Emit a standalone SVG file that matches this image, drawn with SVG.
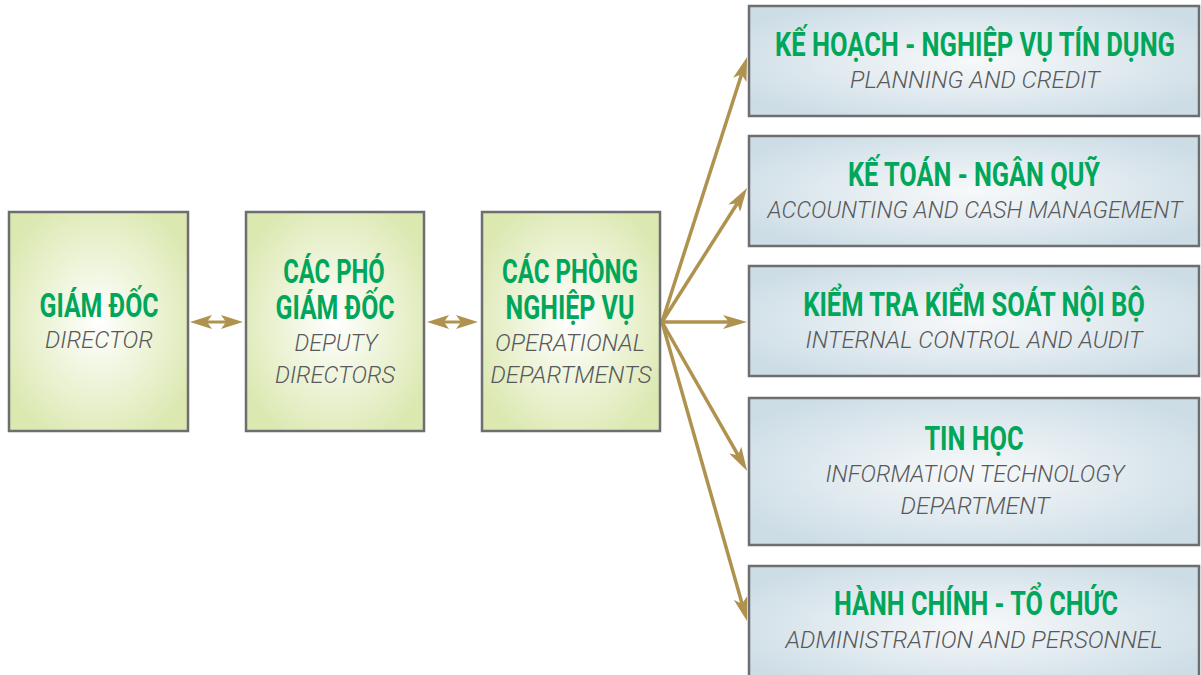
<svg xmlns="http://www.w3.org/2000/svg" width="1201" height="675" viewBox="0 0 1201 675">
<style>
.lbox{fill:url(#gl);stroke:#6d6e71;stroke-width:2.5}
.rbox{fill:url(#gr);stroke:#6d6e71;stroke-width:2.5}
.t{font-family:Roboto,"Liberation Sans",sans-serif;font-weight:700;font-size:33px;fill:#00a65a;text-anchor:middle}
.s{font-family:Roboto,"Liberation Sans",sans-serif;font-weight:300;font-style:italic;font-size:24px;fill:#58595b;text-anchor:middle}
.c{stroke:#b0924f;stroke-width:3.5;fill:none}
.d{stroke:#b0924f;stroke-width:3;fill:none}
</style>
<defs>
<radialGradient id="gl" cx="0.5" cy="0.5" r="0.6">
<stop offset="0" stop-color="#ffffff"/>
<stop offset="1" stop-color="#dbe8b0"/>
</radialGradient>
<radialGradient id="gr" cx="0.5" cy="0.5" r="0.6">
<stop offset="0" stop-color="#f7f9fa"/>
<stop offset="1" stop-color="#cddde6"/>
</radialGradient>
<marker id="ah" viewBox="0 0 24 14" refX="6" refY="7" markerWidth="24" markerHeight="14" markerUnits="userSpaceOnUse" orient="auto-start-reverse">
<path d="M0,0 L24,7 L0,14 L6,7 Z" fill="#b0924f"/>
</marker>
<marker id="dh" viewBox="0 0 22 14" refX="5" refY="7" markerWidth="22" markerHeight="14" markerUnits="userSpaceOnUse" orient="auto-start-reverse">
<path d="M0,0 L22,7 L0,14 L5,7 Z" fill="#b0924f"/>
</marker>
</defs>

<g id="connectors">
<line class="d" x1="207" y1="322" x2="226" y2="322" marker-start="url(#dh)" marker-end="url(#dh)"/>
<line class="d" x1="444" y1="322" x2="461" y2="322" marker-start="url(#dh)" marker-end="url(#dh)"/>
<line class="c" x1="662" y1="322" x2="741.6" y2="74.2" marker-end="url(#ah)"/>
<line class="c" x1="662" y1="322" x2="737.4" y2="203.2" marker-end="url(#ah)"/>
<line class="c" x1="662" y1="322" x2="729" y2="322" marker-end="url(#ah)"/>
<line class="c" x1="662" y1="322" x2="738.2" y2="455.3" marker-end="url(#ah)"/>
<line class="c" x1="662" y1="322" x2="742.1" y2="603.7" marker-end="url(#ah)"/>
</g>

<g id="director">
<rect class="lbox" x="9" y="212" width="179" height="219"/>
<text class="t" transform="translate(99,317) scale(0.8,1)" textLength="149" lengthAdjust="spacingAndGlyphs">GIÁM ĐỐC</text>
<text class="s" x="99" y="348" textLength="108" lengthAdjust="spacingAndGlyphs">DIRECTOR</text>
</g>

<g id="deputy">
<rect class="lbox" x="246" y="212" width="178" height="219"/>
<text class="t" transform="translate(334,283) scale(0.8,1)" textLength="127" lengthAdjust="spacingAndGlyphs">CÁC PHÓ</text>
<text class="t" transform="translate(335,319) scale(0.8,1)" textLength="149" lengthAdjust="spacingAndGlyphs">GIÁM ĐỐC</text>
<text class="s" x="336" y="351" textLength="83" lengthAdjust="spacingAndGlyphs">DEPUTY</text>
<text class="s" x="335" y="383" textLength="120" lengthAdjust="spacingAndGlyphs">DIRECTORS</text>
</g>

<g id="operational">
<rect class="lbox" x="482" y="212" width="178" height="219"/>
<text class="t" transform="translate(570,283) scale(0.8,1)" textLength="170" lengthAdjust="spacingAndGlyphs">CÁC PHÒNG</text>
<text class="t" transform="translate(570,319) scale(0.8,1)" textLength="161" lengthAdjust="spacingAndGlyphs">NGHIỆP VỤ</text>
<text class="s" x="570" y="351" textLength="150" lengthAdjust="spacingAndGlyphs">OPERATIONAL</text>
<text class="s" x="571" y="383" textLength="161" lengthAdjust="spacingAndGlyphs">DEPARTMENTS</text>
</g>

<g id="planning">
<rect class="rbox" x="749" y="6" width="450" height="110"/>
<text class="t" transform="translate(975,56) scale(0.8,1)" textLength="500" lengthAdjust="spacingAndGlyphs">KẾ HOẠCH - NGHIỆP VỤ TÍN DỤNG</text>
<text class="s" x="975" y="88" textLength="250" lengthAdjust="spacingAndGlyphs">PLANNING AND CREDIT</text>
</g>

<g id="accounting">
<rect class="rbox" x="749" y="136" width="450" height="110"/>
<text class="t" transform="translate(974,186) scale(0.8,1)" textLength="315" lengthAdjust="spacingAndGlyphs">KẾ TOÁN - NGÂN QUỸ</text>
<text class="s" x="975" y="218" textLength="415" lengthAdjust="spacingAndGlyphs">ACCOUNTING AND CASH MANAGEMENT</text>
</g>

<g id="audit">
<rect class="rbox" x="749" y="266" width="450" height="110"/>
<text class="t" transform="translate(974,316) scale(0.8,1)" textLength="427" lengthAdjust="spacingAndGlyphs">KIỂM TRA KIỂM SOÁT NỘI BỘ</text>
<text class="s" x="974" y="348" textLength="337" lengthAdjust="spacingAndGlyphs">INTERNAL CONTROL AND AUDIT</text>
</g>

<g id="it">
<rect class="rbox" x="749" y="398" width="450" height="147"/>
<text class="t" transform="translate(974,450) scale(0.8,1)" textLength="124" lengthAdjust="spacingAndGlyphs">TIN HỌC</text>
<text class="s" x="975" y="482" textLength="299" lengthAdjust="spacingAndGlyphs">INFORMATION TECHNOLOGY</text>
<text class="s" x="975" y="514" textLength="149" lengthAdjust="spacingAndGlyphs">DEPARTMENT</text>
</g>

<g id="admin">
<rect class="rbox" x="749" y="566" width="450" height="120"/>
<text class="t" transform="translate(976,615) scale(0.8,1)" textLength="355" lengthAdjust="spacingAndGlyphs">HÀNH CHÍNH - TỔ CHỨC</text>
<text class="s" x="974" y="648" textLength="377" lengthAdjust="spacingAndGlyphs">ADMINISTRATION AND PERSONNEL</text>
</g>
</svg>
